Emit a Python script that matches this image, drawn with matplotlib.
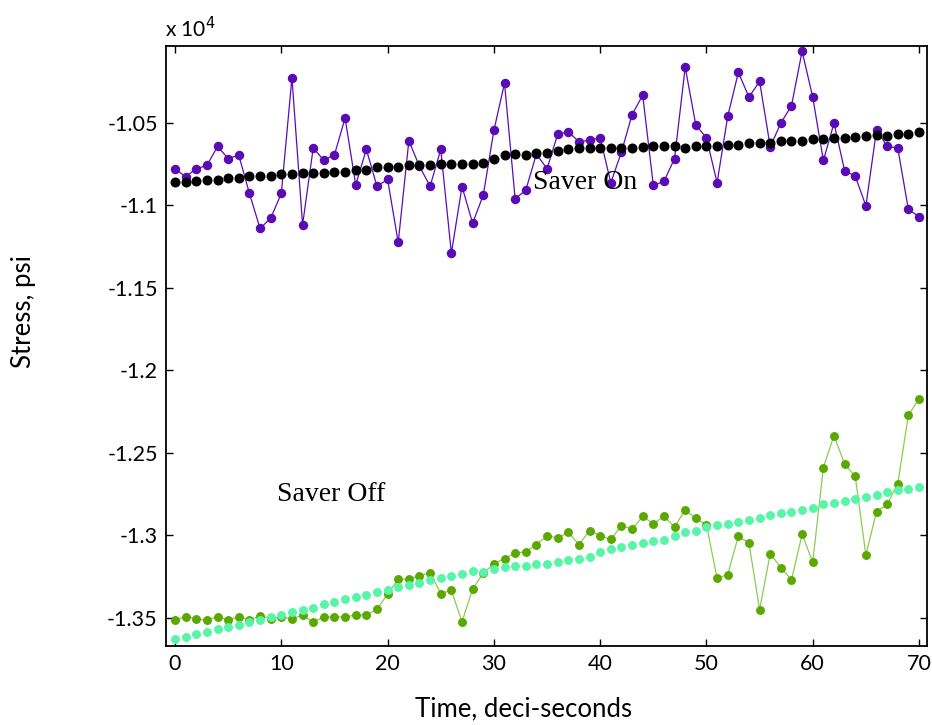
import matplotlib
matplotlib.use("Agg")
import matplotlib.pyplot as plt
from matplotlib.ticker import FuncFormatter
import numpy as np

time = list(range(71))

saver_on_raw = [-10779, -10828, -10779, -10759, -10644, -10717, -10697, -10929, -11141, -11079,
                -10929, -10227, -11119, -10654, -10727, -10694, -10472, -10876, -10662, -10885,
                -10844, -11226, -10609, -10765, -10885, -10662, -11291, -10887, -11109, -10939,
                -10547, -10260, -10961, -10909, -10690, -10779, -10571, -10555, -10615, -10607,
                -10591, -10864, -10678, -10451, -10333, -10879, -10856, -10717, -10163, -10515,
                -10591, -10864, -10462, -10195, -10345, -10249, -10646, -10502, -10397, -10067,
                -10345, -10729, -10502, -10791, -10824, -11004, -10545, -10642, -10654, -11026,
                -11069]

saver_on_trend = [-10858, -10858, -10852, -10848, -10846, -10834, -10834, -10824, -10824, -10824,
                  -10812, -10812, -10804, -10804, -10804, -10796, -10796, -10784, -10784, -10771,
                  -10771, -10771, -10759, -10759, -10759, -10751, -10751, -10751, -10751, -10743,
                  -10719, -10697, -10692, -10697, -10686, -10686, -10672, -10662, -10654, -10654,
                  -10654, -10654, -10654, -10654, -10646, -10642, -10642, -10642, -10652, -10642,
                  -10642, -10642, -10634, -10634, -10626, -10626, -10622, -10611, -10611, -10611,
                  -10601, -10601, -10591, -10591, -10587, -10581, -10577, -10579, -10571, -10571,
                  -10555]

saver_off_raw = [-13514, -13494, -13506, -13516, -13494, -13514, -13494, -13514, -13490, -13506,
                 -13498, -13506, -13486, -13526, -13496, -13496, -13496, -13484, -13484, -13449,
                 -13358, -13267, -13267, -13245, -13227, -13354, -13334, -13526, -13326, -13231,
                 -13174, -13142, -13109, -13101, -13057, -13005, -13016, -12984, -13057, -12974,
                 -13004, -13026, -12942, -12964, -12887, -12930, -12887, -12950, -12846, -12899,
                 -12938, -13261, -13239, -13006, -13049, -13451, -13112, -13197, -13271, -12994,
                 -13164, -12590, -12397, -12569, -12644, -13121, -12857, -12814, -12687, -12272,
                 -12175]

saver_off_trend = [-13631, -13619, -13601, -13587, -13567, -13555, -13543, -13524, -13514, -13496,
                   -13484, -13464, -13451, -13439, -13417, -13407, -13389, -13376, -13364, -13346,
                   -13330, -13312, -13302, -13291, -13271, -13259, -13247, -13237, -13219, -13221,
                   -13205, -13193, -13187, -13185, -13176, -13174, -13164, -13152, -13144, -13134,
                   -13101, -13081, -13069, -13057, -13047, -13037, -13029, -13004, -12984, -12972,
                   -12952, -12939, -12930, -12919, -12909, -12899, -12877, -12867, -12857, -12846,
                   -12834, -12814, -12804, -12794, -12782, -12769, -12757, -12741, -12727, -12719,
                   -12707]

x_ticks = [0, 10, 20, 30, 40, 50, 60, 70]
y_ticks = [-13500, -13000, -12500, -12000, -11500, -11000, -10500]

purple = "#5a0cb4"
green = "#5aa800"
green_line = "#8ccc50"
mint = "#58f5a8"
sans = ['Lato', 'DejaVu Sans']

plt.rcParams['axes.unicode_minus'] = False
fig = plt.figure(figsize=(9.32, 7.25), dpi=100)
ax = fig.add_axes([166 / 932, 1 - 646 / 725, (927 - 166) / 932, (646 - 46) / 725])

ax.plot(time, saver_on_raw, '-o', color=purple, lw=0.9, ms=5.8, mec=purple, zorder=2)
ax.plot(time, saver_on_trend, 'o', color='black', ms=6.2, mec='black', zorder=3)
ax.plot(time, saver_off_raw, '-o', color=green_line, lw=0.9, ms=5.4, mfc=green, mec=green, zorder=2)
ax.plot(time, saver_off_trend, 'o', color=mint, ms=5.4, mec=mint, zorder=3)

ax.set_xlim(-0.85, 70.75)
ax.set_ylim(-13672, -10035)
ax.set_xticks(x_ticks)
ax.set_yticks(y_ticks)
ax.yaxis.set_major_formatter(FuncFormatter(lambda v, p: "%g" % round(v / 1e4, 4)))

for s in ax.spines.values():
    s.set_linewidth(1.3)
ax.tick_params(direction='in', top=True, right=True, length=5, width=1,
               labelsize=15.5, pad=6)
for lab in ax.get_xticklabels() + ax.get_yticklabels():
    lab.set_fontfamily(sans)

ax.text(33.7, -10862, "Saver On", fontsize=20, family='Liberation Serif', va='center', ha='left')
ax.text(9.6, -12755, "Saver Off", fontsize=20, family='Liberation Serif', va='center', ha='left')

fig.text(24 / 932, 1 - 312 / 725, "Stress, psi", rotation=90, fontsize=18.5,
         family=sans, ha='center', va='center')
fig.text(524 / 932, 1 - 709 / 725, "Time, deci-seconds", fontsize=18.5,
         family=sans, ha='center', va='center')
fig.text(165 / 932, 1 - 29 / 725, r"x 10$^{4}$", fontsize=15,
         family=sans, ha='left', va='center')

fig.savefig("out.png", dpi=100)
